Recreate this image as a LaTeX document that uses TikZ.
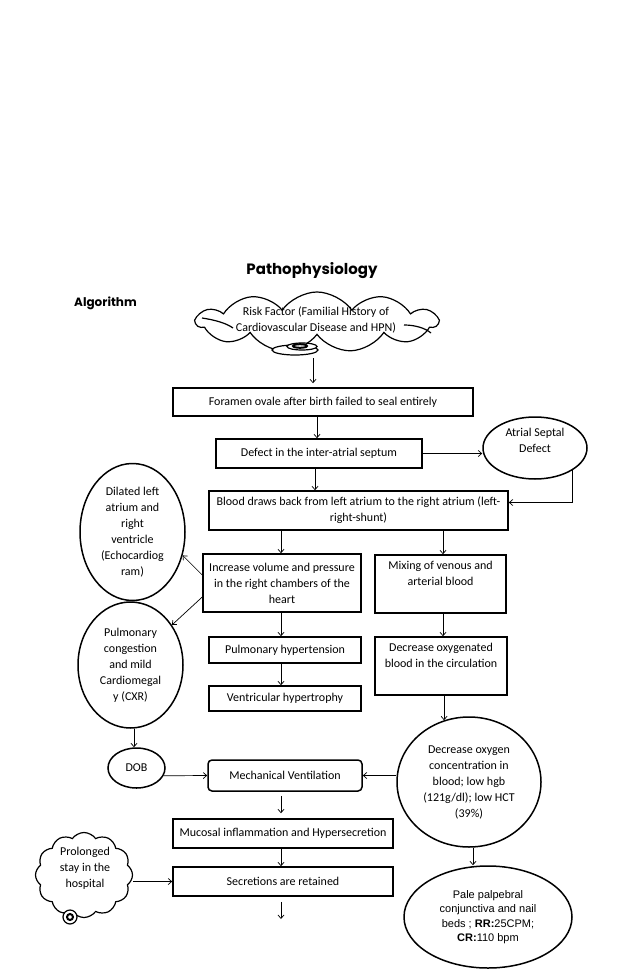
\documentclass[tikz,border=0pt]{standalone}
\usepackage{fontspec}
\setmainfont{Carlito}
\newfontfamily\arialfont{Liberation Sans}
\newfontfamily\titlefont{Poppins}
\usetikzlibrary{shapes.geometric,shapes.symbols,arrows.meta}
\begin{document}
\begin{tikzpicture}[x=1pt,y=-1pt,
  every node/.style={font=\fontsize{12}{16}\selectfont, align=center, inner sep=0pt},
  box/.style={draw, line width=1.5pt, rectangle},
  oval/.style={draw, line width=1.5pt, ellipse},
  cloudshape/.style={draw, line width=1.2pt, cloud, cloud ignores aspect, cloud puff arc=110},
  arr/.style={-{Straight Barb[length=3.5pt,width=6pt]}, line width=0.7pt},
  tailring/.style={draw, line width=1.2pt, fill=white},
  curl/.style={line width=1.2pt},
  ]
\useasboundingbox (0,0) rectangle (638,976);
\fill[white] (0,0) rectangle (638,976);

% titles
\node[font=\titlefont\bfseries\fontsize{15}{18}\selectfont] (title) at (312,271) {Pathophysiology};
\node[font=\titlefont\bfseries\fontsize{12}{14}\selectfont, anchor=west] (algo) at (74,303) {Algorithm};

% risk cloud
\node[cloudshape, cloud puffs=11, minimum width=241, minimum height=60] (riskcloud) at (317,322) {};
\draw[curl] (202,318) .. controls (215,320) and (226,323) .. (233,328);
\draw[curl] (404,325) .. controls (415,325) and (425,328) .. (431,333);
\node (risktext) at (316,320) {Risk Factor (Familial History of\\Cardiovascular Disease and HPN)};
\draw[tailring] (295,350) ellipse [x radius=23, y radius=5];
\draw[tailring] (302,346.5) ellipse [x radius=15, y radius=3.5];
\draw[line width=2pt] (300,346) ellipse [x radius=7, y radius=1.8];
\coordinate (tail) at (313,358);

% boxes
\node[box, minimum width=300, minimum height=28] (foramen) at (323,402) {Foramen ovale after birth failed to seal entirely};
\node[box, minimum width=206, minimum height=29] (defect) at (319,453.5) {Defect in the inter-atrial septum};
\node[oval, minimum width=104, minimum height=62] (asd) at (535,448) {};
\node (asdtext) at (535,440) {Atrial Septal\\Defect};
\node[box, minimum width=299, minimum height=39] (blood) at (358.5,510.5) {Blood draws back from left atrium to the right atrium (left-\\right-shunt)};
\node[oval, minimum width=105, minimum height=137] (dilated) at (132.5,532) {Dilated left\\atrium and\\right\\ventricle\\(Echocardiog\\ram)};
\node[oval, minimum width=105, minimum height=126] (pulm) at (130.5,665) {Pulmonary\\congestion\\and mild\\Cardiomegal\\y (CXR)};
\node[box, minimum width=158, minimum height=58] (increase) at (282,583) {Increase volume and pressure\\in the right chambers of the\\heart};
\node[box, minimum width=131, minimum height=58] (mixing) at (440.5,584) {Mixing of venous and\\arterial blood\\\strut};
\node[box, minimum width=152, minimum height=26] (pulmhyp) at (285,650) {Pulmonary hypertension};
\node[box, minimum width=152, minimum height=25] (vent) at (285,698.5) {Ventricular hypertrophy};
\node[box, minimum width=132, minimum height=58] (decox) at (441,666) {Decrease oxygenated\\blood in the circulation\\\strut};
\node[oval, minimum width=144, minimum height=130] (circ) at (469,782) {Decrease oxygen\\concentration in\\blood; low hgb\\(121g/dl); low HCT\\(39\%)};
\node[oval, minimum width=57, minimum height=40] (dob) at (136.5,768) {DOB};
\node[box, rounded corners=4pt, minimum width=154, minimum height=31] (mech) at (285,775.5) {Mechanical Ventilation};
\node[box, minimum width=220, minimum height=29] (mucosal) at (283,833.5) {Mucosal inflammation and Hypersecretion};
\node[box, minimum width=220, minimum height=29] (secr) at (283,881.5) {Secretions are retained};
\node[oval, minimum width=168, minimum height=102, font=\arialfont\fontsize{11}{14.5}\selectfont] (pale) at (488,917) {Pale palpebral\\conjunctiva and nail\\beds ; \textbf{RR:}25CPM;\\\textbf{CR:}110 bpm};

% prolonged cloud
\node[cloudshape, cloud puffs=12, minimum width=97, minimum height=85] (prol) at (84,875) {};
\node (proltext) at (85,868) {Prolonged\\stay in the\\hospital};
\draw[tailring] (70,917) circle [radius=7];
\draw[line width=2pt] (70,917) circle [radius=3];

% column helpers
\coordinate (xb) at (317,0);
\coordinate (xc) at (315,0);
\coordinate (xl) at (281,0);
\coordinate (xr) at (443,0);
\coordinate (xd) at (134,0);
\coordinate (xp) at (473,0);
\coordinate (freeend) at (281,919);

% connectors
\draw[arr, shorten >=4pt] (tail) -- (tail |- foramen.north);
\draw[arr] (xb |- foramen.south) -- (xb |- defect.north);
\draw[arr] (defect.east) -- (defect.east -| asd.west);
\draw[arr] (asd.-31) |- ([yshift=8pt]blood.east);
\draw[arr] (xc |- defect.south) -- (xc |- blood.north);
\draw[arr] (xl |- blood.south) -- (xl |- increase.north);
\draw[arr] (xr |- blood.south) -- (xr |- mixing.north);
\draw[arr] ([yshift=8pt]increase.west) -- (dilated.-25);
\draw[arr] ([yshift=-14pt]increase.west) -- (pulm.44);
\draw[arr] (xl |- increase.south) -- (xl |- pulmhyp.north);
\draw[arr] (xl |- pulmhyp.south) -- (xl |- vent.north);
\draw[arr] (xr |- mixing.south) -- (xr |- decox.north);
\draw[arr] (decox.south -| circ.112) -- (circ.112);
\draw[arr] (xd |- pulm.south) -- (xd |- dob.north);
\draw[arr] (dob.-16) -- (mech.west);
\draw[arr] (mech.east -| circ.west) -- (mech.east);
\draw[arr, shorten <=4pt, shorten >=5pt] (xl |- mech.south) -- (xl |- mucosal.north);
\draw[arr] (xl |- mucosal.south) -- (xl |- secr.north);
\draw[arr, shorten <=5pt] (xl |- secr.south) -- (freeend);
\draw[arr] (secr.west -| prol.east) -- (secr.west);
\draw[arr] (xp |- circ.south) -- (xp |- pale.north);
\end{tikzpicture}
\end{document}
